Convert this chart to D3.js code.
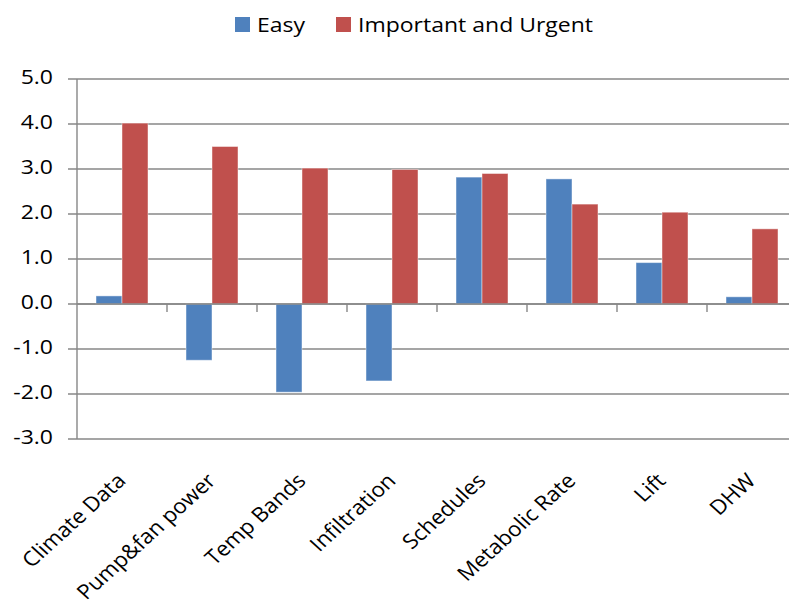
<!DOCTYPE html>
<html>
<head>
<meta charset="utf-8">
<script src="https://cdn.jsdelivr.net/npm/d3@7"></script>
<style>
  html, body { margin: 0; padding: 0; background: #fff; }
  svg text { font-family: "Open Sans", "Noto Sans", sans-serif; fill: #000; }
</style>
</head>
<body>
<div id="chart"></div>
<script>
// data
var categories = ['Climate Data', 'Pump&fan power', 'Temp Bands', 'Infiltration',
  'Schedules', 'Metabolic Rate', 'Lift', 'DHW'];
var seriesNames = ['Easy', 'Important and Urgent'];
var easyValues = [0.18, -1.25, -1.96, -1.71, 2.82, 2.78, 0.92, 0.16];
var urgentValues = [4.02, 3.5, 3.02, 2.99, 2.9, 2.22, 2.04, 1.67];
var yTicks = [-3, -2, -1, 0, 1, 2, 3, 4, 5];
var seriesColors = ['#4F81BD', '#C0504D'];

// params
var width = 789;
var height = 604;
var plotLeft = 77;
var plotRight = 797;
var plotTop = 79;
var plotBottom = 439;
var gridColor = '#878787';
var textStretch = 1.15;

var rows = categories.map(function(c, i) {
  return { cat: c, values: [easyValues[i], urgentValues[i]] };
});

var svg = d3.select('#chart').append('svg')
  .attr('width', width)
  .attr('height', height);

var x0 = d3.scaleBand()
  .domain(categories)
  .range([plotLeft, plotRight])
  .paddingInner(0.4222)
  .paddingOuter(0.2111);

var x1 = d3.scaleBand()
  .domain(d3.range(seriesNames.length))
  .range([0, x0.bandwidth()]);

var y = d3.scaleLinear()
  .domain([-3, 5])
  .range([plotBottom, plotTop]);

// gridlines
svg.append('g')
  .selectAll('line')
  .data(yTicks)
  .enter()
  .append('line')
  .attr('x1', plotLeft - 9)
  .attr('x2', width)
  .attr('y1', d => y(d))
  .attr('y2', d => y(d))
  .attr('stroke', gridColor)
  .attr('stroke-width', 1.4);

// y axis line
svg.append('line')
  .attr('x1', plotLeft).attr('x2', plotLeft)
  .attr('y1', y(5)).attr('y2', y(-3))
  .attr('stroke', gridColor)
  .attr('stroke-width', 1.4);

// y labels
svg.append('g')
  .selectAll('text')
  .data(yTicks)
  .enter()
  .append('text')
  .attr('transform', d => `translate(53, ${y(d) + 5}) scale(${textStretch},1)`)
  .attr('text-anchor', 'end')
  .style('font-size', '20px')
  .text(d => d.toFixed(1));

// bars
var groups = svg.append('g')
  .selectAll('g.cat')
  .data(rows)
  .enter()
  .append('g')
  .attr('class', 'cat')
  .attr('transform', d => `translate(${x0(d.cat)},0)`);

groups.selectAll('rect')
  .data(d => d.values.map((v, i) => ({ v: v, i: i })))
  .enter()
  .append('rect')
  .attr('x', d => x1(d.i))
  .attr('width', x1.bandwidth())
  .attr('y', d => y(Math.max(0, d.v)))
  .attr('height', d => Math.abs(y(d.v) - y(0)))
  .attr('fill', d => seriesColors[d.i])
  .attr('stroke', 'rgba(255,255,255,0.45)')
  .attr('stroke-width', 1);

// x axis line + ticks at category boundaries
svg.append('line')
  .attr('x1', plotLeft).attr('x2', width)
  .attr('y1', y(0)).attr('y2', y(0))
  .attr('stroke', gridColor)
  .attr('stroke-width', 1.4);

svg.append('g')
  .selectAll('line')
  .data(categories)
  .enter()
  .append('line')
  .attr('x1', d => x0(d) + x0.bandwidth() / 2 + x0.step() / 2)
  .attr('x2', d => x0(d) + x0.bandwidth() / 2 + x0.step() / 2)
  .attr('y1', y(0))
  .attr('y2', y(0) + 8)
  .attr('stroke', gridColor)
  .attr('stroke-width', 1.4);

// x labels
svg.append('g')
  .selectAll('text')
  .data(categories)
  .enter()
  .append('text')
  .attr('transform', d =>
    `translate(${x0(d) + x0.bandwidth() / 2 + 5}, 482) scale(1.1,1) rotate(-45)`)
  .attr('text-anchor', 'end')
  .style('font-size', '20.5px')
  .text(d => d);

// legend
var legendX = [235, 336];
var legend = svg.append('g')
  .selectAll('g')
  .data(seriesNames)
  .enter()
  .append('g')
  .attr('transform', (d, i) => `translate(${legendX[i]},17)`);

legend.append('rect')
  .attr('width', 15)
  .attr('height', 15)
  .attr('fill', (d, i) => seriesColors[i]);

legend.append('text')
  .attr('transform', `translate(22, 14.5) scale(${textStretch},1)`)
  .style('font-size', '20px')
  .text(d => d);
</script>
</body>
</html>
